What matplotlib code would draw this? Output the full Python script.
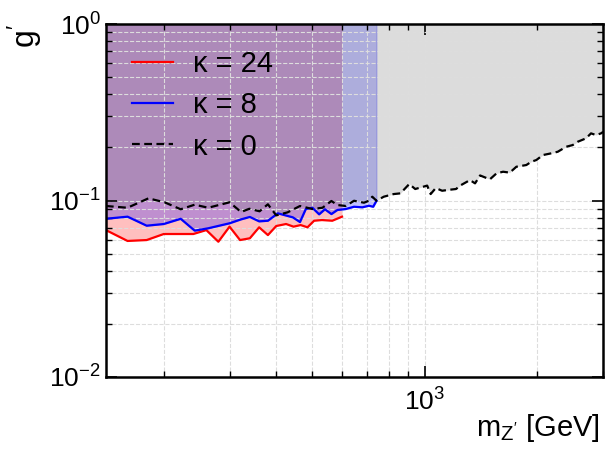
from matplotlib import pyplot as plt
from matplotlib import ticker
import numpy as np

plt.rcParams['font.family'] = ['Liberation Sans', 'DejaVu Sans']
plt.rcParams['mathtext.fontset'] = 'custom'
plt.rcParams['mathtext.rm'] = 'Liberation Sans'
plt.rcParams['mathtext.it'] = 'Liberation Sans:italic'

# kappa = 24
m_k24 = [140, 160, 180, 200, 240, 260, 280, 300, 320, 340, 360, 380, 400, 425,
         445, 465, 485, 505, 530, 565, 600]
g_k24 = [0.068, 0.059, 0.0597, 0.0646, 0.0646, 0.068, 0.0584, 0.0711, 0.0597,
         0.0611, 0.0705, 0.0637, 0.0717, 0.0736, 0.0711, 0.0726, 0.0705, 0.0768,
         0.0775, 0.0768, 0.081]

# kappa = 8
m_k8 = [140, 160, 180, 200, 222, 242, 263, 300, 322, 340, 360, 380, 404, 443,
        463, 480, 500, 521, 540, 562, 583, 614, 646, 680, 708, 727, 742]
g_k8 = [0.0788, 0.081, 0.072, 0.0736, 0.0788, 0.0675, 0.0696, 0.0743, 0.0782,
        0.0807, 0.0762, 0.0768, 0.0846, 0.0803, 0.0755, 0.0895, 0.091, 0.0835,
        0.0892, 0.0838, 0.0884, 0.0895, 0.0922, 0.0915, 0.0934, 0.0922, 0.0997]

# kappa = 0
m_k0 = [140, 160, 182, 201, 222, 242, 263, 300, 322, 339, 361, 380, 400, 429,
        463, 500, 532, 562, 583, 614, 646, 687, 708, 723, 742, 776, 825, 860,
        908, 942, 1014, 1036, 1069, 1112, 1160, 1211, 1250, 1320, 1362, 1405,
        1492, 1555, 1619, 1687, 1757, 1868, 1927, 1987, 2069, 2178, 2268, 2388,
        2486, 2564, 2699, 2783, 2870, 2960, 3000]
g_k0 = [0.0931, 0.091, 0.1029, 0.0977, 0.0892, 0.0947, 0.091, 0.0977, 0.0861,
        0.0898, 0.0869, 0.0952, 0.0824, 0.0857, 0.0931, 0.0895, 0.091, 0.0994,
        0.0943, 0.0931, 0.0997, 0.0972, 0.0997, 0.1051, 0.0997, 0.1051, 0.1088,
        0.1098, 0.124, 0.1162, 0.1215, 0.1088, 0.1177, 0.1136, 0.115, 0.1162,
        0.1224, 0.1306, 0.1251, 0.1387, 0.1318, 0.1426, 0.1456, 0.1439, 0.1554,
        0.1589, 0.1659, 0.1696, 0.181, 0.1851, 0.189, 0.2017, 0.2062, 0.2153,
        0.2251, 0.2402, 0.235, 0.2402, 0.245]

fig = plt.figure(figsize=(6.05, 4.49), dpi=100)
ax = fig.add_axes([0.175, 0.1604, 0.822, 0.786])

ax.fill_between(m_k24, g_k24, 1, color='red', alpha=0.25, lw=0)
ax.fill_between(m_k8, g_k8, 1, color='blue', alpha=0.25, lw=0.8)
ax.fill_between(m_k0, g_k0, 1, color='gray', alpha=0.27, lw=0)

ax.plot(m_k24, g_k24, color='red', lw=1.6, label=u'\u03ba = 24')
ax.plot(m_k8, g_k8, color='blue', lw=1.6, label=u'\u03ba = 8')
ax.plot(m_k0, g_k0, color='black', lw=1.6, ls=(0, (3.5, 2)), label=u'\u03ba = 0')

ax.set_xscale('log')
ax.set_yscale('log')
ax.set_xlim(140, 3000)
ax.set_ylim(0.01, 1)
ax.xaxis.set_minor_formatter(ticker.NullFormatter())
ax.yaxis.set_minor_formatter(ticker.NullFormatter())

ax.grid(True, which='both', ls='--', color='#dddddd', lw=0.8)
ax.tick_params(which='both', direction='in', top=True, right=True, labelsize=19)
ax.tick_params(axis='x', which='major', pad=8)
ax.tick_params(which='major', length=8, width=1.2)
ax.tick_params(which='minor', length=4, width=1.0)
for s in ax.spines.values():
    s.set_linewidth(1.8)

ax.set_xlabel(r'$\mathrm{m}_{\mathrm{Z}^{\prime}}$ [GeV]', fontsize=21)
ax.xaxis.set_label_coords(0.993, -0.1)
ax.xaxis.label.set_horizontalalignment('right')
ax.set_ylabel(r'$\mathrm{g}^{\prime}$', fontsize=23, loc='top')

ax.legend(loc='upper left', frameon=False, fontsize=21, handlelength=1.4,
          handletextpad=0.7, labelspacing=0.45, borderaxespad=0.5)

fig.savefig('out.png', dpi=100)
